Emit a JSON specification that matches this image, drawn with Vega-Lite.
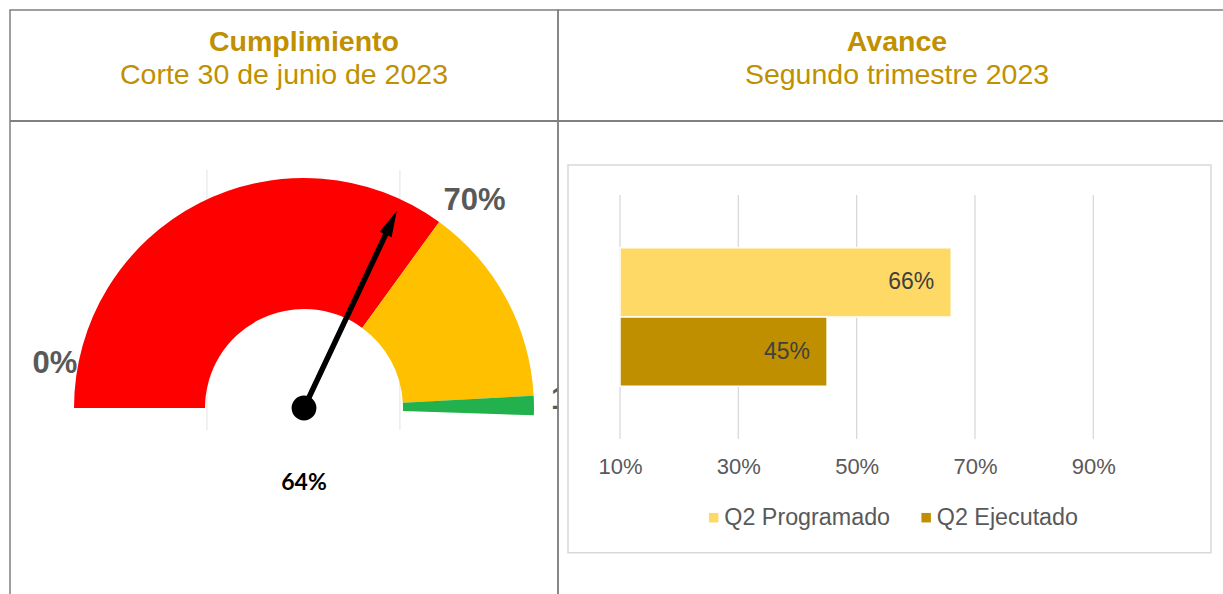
{
  "$schema": "https://vega.github.io/schema/vega-lite/v6.json",
  "padding": {"left": 8, "top": 9, "right": 0, "bottom": 0},
  "background": "white",
  "config": {
    "view": {"stroke": null},
    "font": "Liberation Sans"
  },
  "datasets": {
    "encabezado_cumplimiento": [{"titulo": "Cumplimiento", "subtitulo": "Corte 30 de junio de 2023"}],
    "tramos": [
      {"tramo": "rojo", "desde": 0, "hasta": 0.7},
      {"tramo": "amarillo", "desde": 0.7, "hasta": 0.983},
      {"tramo": "verde", "desde": 0.983, "hasta": 1.01}
    ],
    "marcas": [{"marca": 0}, {"marca": 0.7}, {"marca": 1}],
    "aguja": [{"valor": 0.64}],
    "guias": [{"guia": -0.422}, {"guia": 0.417}],
    "avance": [
      {"serie": "Q2 Programado", "valor": 0.66},
      {"serie": "Q2 Ejecutado", "valor": 0.45}
    ],
    "cuadricula": [{"tick": 0.1}, {"tick": 0.3}, {"tick": 0.5}, {"tick": 0.7}, {"tick": 0.9}],
    "celda": [{"celda": "encabezado"}]
  },
  "hconcat": [
    {
      "width": 548,
      "height": 586,
      "view": {"stroke": "#808080", "strokeWidth": 1.5},
      "layer": [
        {
          "data": {"name": "celda"},
          "mark": {"type": "rule", "color": "#808080", "strokeWidth": 2},
          "encoding": {
            "y": {"datum": 1.24783, "type": "quantitative", "scale": {"domain": [-0.81739, 1.73043], "nice": false, "zero": false}, "axis": null}
          }
        },
        {
          "data": {"name": "encabezado_cumplimiento"},
          "mark": {"type": "text", "fontSize": 28.5, "fontWeight": "bold", "color": "#BF9000", "baseline": "alphabetic"},
          "encoding": {
            "x": {"datum": 0, "type": "quantitative", "scale": {"domain": [-1.27826, 1.10435], "nice": false, "zero": false}, "axis": null},
            "y": {"datum": 1.5505, "type": "quantitative"},
            "text": {"field": "titulo"}
          }
        },
        {
          "data": {"name": "encabezado_cumplimiento"},
          "mark": {"type": "text", "fontSize": 28.5, "color": "#BF9000", "baseline": "alphabetic"},
          "encoding": {
            "y": {"datum": 1.4096, "type": "quantitative"},
            "text": {"field": "subtitulo"}
          }
        },
        {
          "data": {"name": "guias"},
          "mark": {"type": "rule", "color": "#E3E3E3", "strokeWidth": 1},
          "encoding": {
            "x": {"field": "guia", "type": "quantitative"},
            "y": {"datum": -0.096, "type": "quantitative"},
            "y2": {"datum": 1.035}
          }
        },
        {
          "data": {"name": "marcas"},
          "transform": [{"filter": "datum.marca == 0"}],
          "mark": {"type": "text", "radius": 250, "dx": 1, "dy": -44, "align": "center", "baseline": "middle", "fontSize": 31, "fontWeight": "bold", "color": "#595959"},
          "encoding": {
            "x": {"datum": 0, "type": "quantitative"},
            "y": {"datum": 0, "type": "quantitative"},
            "theta": {"field": "marca", "type": "quantitative", "scale": {"domain": [0, 1], "range": [-1.5708, 1.5708]}},
            "text": {"field": "marca", "type": "quantitative", "format": ".0%"}
          }
        },
        {
          "data": {"name": "marcas"},
          "transform": [{"filter": "datum.marca == 0.7"}],
          "mark": {"type": "text", "radius": 250, "dx": 23.5, "dy": -5, "align": "center", "baseline": "middle", "fontSize": 31, "fontWeight": "bold", "color": "#595959"},
          "encoding": {
            "x": {"datum": 0, "type": "quantitative"},
            "y": {"datum": 0, "type": "quantitative"},
            "theta": {"field": "marca", "type": "quantitative", "scale": {"domain": [0, 1], "range": [-1.5708, 1.5708]}},
            "text": {"field": "marca", "type": "quantitative", "format": ".0%"}
          }
        },
        {
          "data": {"name": "marcas"},
          "transform": [{"filter": "datum.marca == 1"}],
          "mark": {"type": "text", "radius": 250, "dx": -3, "dy": -8, "align": "left", "baseline": "middle", "fontSize": 31, "fontWeight": "bold", "color": "#595959", "clip": true},
          "encoding": {
            "x": {"datum": 0, "type": "quantitative"},
            "y": {"datum": 0, "type": "quantitative"},
            "theta": {"field": "marca", "type": "quantitative", "scale": {"domain": [0, 1], "range": [-1.5708, 1.5708]}},
            "text": {"field": "marca", "type": "quantitative", "format": ".0%"}
          }
        },
        {
          "data": {"name": "tramos"},
          "mark": {"type": "arc", "innerRadius": 99, "outerRadius": 230},
          "encoding": {
            "x": {"datum": 0, "type": "quantitative"},
            "y": {"datum": 0, "type": "quantitative"},
            "theta": {"field": "desde", "type": "quantitative", "stack": null, "scale": {"domain": [0, 1], "range": [-1.5708, 1.5708]}},
            "theta2": {"field": "hasta"},
            "color": {"field": "tramo", "type": "nominal", "scale": {"domain": ["rojo", "amarillo", "verde"], "range": ["#FF0000", "#FFC000", "#22B14C"]}, "legend": null}
          }
        },
        {
          "data": {"name": "aguja"},
          "mark": {"type": "point", "shape": "M-0.0125,0L-0.0125,-0.88L-0.03,-0.88L0,-1L0.03,-0.88L0.0125,-0.88L0.0125,0Z", "filled": true, "color": "#000000", "opacity": 1, "size": 190096},
          "encoding": {
            "x": {"datum": 0, "type": "quantitative"},
            "y": {"datum": 0, "type": "quantitative"},
            "angle": {"field": "valor", "type": "quantitative", "scale": {"domain": [0, 1], "range": [-90, 90]}}
          }
        },
        {
          "data": {"name": "aguja"},
          "mark": {"type": "circle", "color": "#000000", "opacity": 1, "size": 616},
          "encoding": {
            "x": {"datum": 0, "type": "quantitative"},
            "y": {"datum": 0, "type": "quantitative"}
          }
        },
        {
          "data": {"name": "aguja"},
          "mark": {"type": "text", "font": "Lato", "fontWeight": "bold", "fontSize": 23, "color": "#000000", "dy": 75, "baseline": "middle"},
          "encoding": {
            "x": {"datum": 0, "type": "quantitative"},
            "y": {"datum": 0, "type": "quantitative"},
            "text": {"field": "valor", "type": "quantitative", "format": ".0%"}
          }
        }
      ]
    },
    {
      "width": 678,
      "height": 586,
      "view": {"stroke": "#808080", "strokeWidth": 1.5},
      "title": {
        "text": "Avance",
        "subtitle": "Segundo trimestre 2023",
        "anchor": "middle",
        "offset": -79.5,
        "font": "Liberation Sans",
        "fontSize": 28.5,
        "fontWeight": "bold",
        "color": "#BF9000",
        "subtitleFont": "Liberation Sans",
        "subtitleFontSize": 28.5,
        "subtitleFontWeight": "normal",
        "subtitleColor": "#BF9000",
        "subtitlePadding": 4.5
      },
      "layer": [
        {
          "layer": [
            {
              "data": {"name": "celda"},
              "mark": {"type": "rule", "color": "#808080", "strokeWidth": 2},
              "encoding": {
                "y": {"datum": 1.30328, "type": "quantitative", "scale": {"domain": [-0.64345, 1.7582], "nice": false, "zero": false}, "axis": null}
              }
            },
            {
              "data": {"name": "cuadricula"},
              "mark": {"type": "rule", "color": "#D9D9D9", "strokeWidth": 1.3},
              "encoding": {
                "x": {
                  "field": "tick", "type": "quantitative",
                  "scale": {"domain": [-0.00479, 1.14113], "nice": false, "zero": false},
                  "axis": {"orient": "bottom", "offset": -157, "values": [0.1, 0.3, 0.5, 0.7, 0.9], "format": ".0%", "grid": false, "domain": false, "ticks": false, "labelFontSize": 22, "labelColor": "#595959", "labelPadding": 17, "title": null}
                },
                "y": {"datum": 0, "type": "quantitative", "scale": {"domain": [-0.64345, 1.7582], "nice": false, "zero": false}, "axis": null},
                "y2": {"datum": 1}
              }
            },
            {
              "data": {"name": "celda"},
              "mark": {"type": "rect", "filled": false, "stroke": "#D9D9D9", "strokeWidth": 1.5},
              "encoding": {
                "x": {
                  "datum": 0.01211, "type": "quantitative",
                  "axis": {"orient": "bottom", "offset": -157, "values": [0.1, 0.3, 0.5, 0.7, 0.9], "format": ".0%", "grid": false, "domain": false, "ticks": false, "labelFontSize": 22, "labelColor": "#595959", "labelPadding": 17, "title": null}
                },
                "x2": {"datum": 1.09887},
                "y": {"datum": -0.46598, "type": "quantitative"},
                "y2": {"datum": 1.12295}
              }
            }
          ]
        },
        {
          "data": {"name": "avance"},
          "encoding": {
            "y": {"datum": "Avance", "type": "nominal", "scale": {"paddingInner": 0, "paddingOuter": 1, "align": 0.5358}, "axis": null},
            "yOffset": {"field": "serie", "type": "nominal", "sort": ["Q2 Programado", "Q2 Ejecutado"], "scale": {"domain": ["Q2 Programado", "Q2 Ejecutado"], "paddingInner": 0, "paddingOuter": 0.4093}},
            "x": {
              "field": "valor", "type": "quantitative",
              "scale": {"domain": [-0.00479, 1.14113], "nice": false, "zero": false},
              "axis": {"orient": "bottom", "offset": -157, "values": [0.1, 0.3, 0.5, 0.7, 0.9], "format": ".0%", "grid": false, "domain": false, "ticks": false, "labelFontSize": 22, "labelColor": "#595959", "labelPadding": 17, "title": null}
            }
          },
          "layer": [
            {
              "mark": {"type": "bar", "stroke": "#FFFFFF", "strokeWidth": 1.5},
              "encoding": {
                "x2": {"datum": 0.1},
                "color": {
                  "field": "serie", "type": "nominal",
                  "scale": {"domain": ["Q2 Programado", "Q2 Ejecutado"], "range": ["#FFD966", "#BF8F00"]},
                  "legend": {"orient": "none", "legendX": 144, "legendY": 496, "direction": "horizontal", "title": null, "symbolType": "square", "symbolSize": 90, "symbolStrokeWidth": 0, "labelFontSize": 23.3, "labelColor": "#595959", "labelOffset": -1, "columnPadding": 23.5, "labelLimit": 400}
                }
              }
            },
            {
              "mark": {"type": "text", "align": "right", "dx": -17, "fontSize": 23, "color": "#404040", "baseline": "middle"},
              "encoding": {"text": {"field": "valor", "type": "quantitative", "format": ".0%"}}
            }
          ]
        }
      ],
      "resolve": {"scale": {"y": "independent"}, "axis": {"y": "independent"}}
    }
  ],
  "spacing": 0,
  "bounds": "flush",
  "resolve": {"scale": {"x": "independent", "y": "independent", "color": "independent"}}
}
